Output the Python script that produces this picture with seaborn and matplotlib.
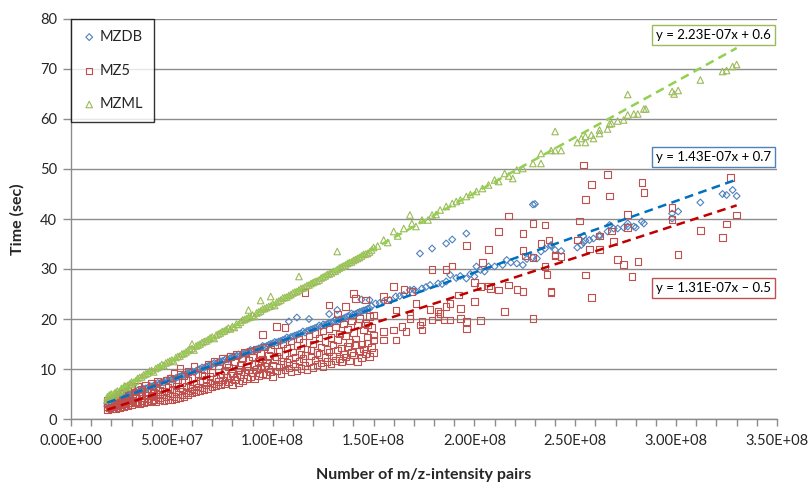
import numpy as np
import pandas as pd
import matplotlib
matplotlib.use('Agg')
import matplotlib.pyplot as plt
from matplotlib.ticker import FuncFormatter, MultipleLocator
import seaborn as sns

# x values in millions of m/z-intensity pairs, y in seconds
mzdb_x = [18, 18, 19, 20, 20, 21, 22, 23, 24, 25, 26, 27, 28, 30, 31, 32, 34, 35, 36, 38,
          40, 41, 42, 44, 45, 46, 48, 50, 52, 53, 54, 56, 58, 59, 60, 62, 64, 65, 66, 68,
          70, 71, 72, 74, 76, 77, 78, 80, 82, 83, 84, 86, 88, 89, 90, 92, 94, 95, 96, 98,
          100, 101, 102, 104, 106, 107, 108, 110, 112, 114, 115, 116, 118, 120, 122, 123, 124, 126, 128, 130,
          131, 132, 134, 136, 138, 139, 140, 142, 144, 146, 148, 149,
          108, 112, 118, 128, 132, 144, 148,
          151, 155, 158, 161, 165, 168, 171, 174, 178, 182, 186, 188, 193, 196, 200, 201, 205, 207,
          214, 216, 221, 224, 229, 231, 233, 235, 238, 173, 179, 186, 189, 196, 229, 230,
          238, 240, 243, 251, 253, 254, 254, 255, 257, 259, 262, 262, 266, 267, 269, 271, 274, 276, 276,
          279, 280, 283, 284, 298, 298, 301, 312, 323, 325, 328, 330,
          19, 21.5, 24, 26.5, 29, 33, 37, 39, 43, 47, 49, 51, 55, 57, 61, 63, 67, 69, 73, 75,
          79, 81, 85, 87, 91, 93, 97, 99, 103, 105, 109, 111, 113, 117, 119, 121, 125, 127, 129, 133,
          135, 137, 141, 143, 145, 147, 153, 163, 170, 176, 184, 191, 198, 203, 210, 218, 226]
mzdb_y = [2.6, 3.2, 3.0, 3.5, 3.1, 3.6, 3.9, 4.0, 4.2, 4.4, 4.5, 4.7, 4.9, 5.1, 5.3, 5.4, 5.6, 5.8, 6.0, 6.2,
          6.5, 6.7, 6.8, 7.1, 7.4, 7.3, 7.6, 7.9, 8.2, 8.4, 8.5, 8.8, 9.1, 9.3, 9.5, 9.6, 10.0, 10.3, 10.2, 10.6,
          10.9, 11.2, 11.1, 11.5, 11.7, 12.1, 11.9, 12.3, 12.6, 12.9, 12.7, 13.1, 13.4, 13.8, 13.6, 13.9, 14.2, 14.6, 14.4, 14.8,
          15.1, 15.4, 15.3, 15.6, 15.9, 16.3, 16.1, 16.5, 16.8, 17.1, 17.5, 17.3, 17.7, 18.0, 18.3, 18.7, 18.5, 18.8, 19.2, 19.4,
          19.9, 19.7, 20.0, 20.3, 20.6, 21.1, 20.9, 21.2, 21.5, 21.8, 22.1, 22.6,
          19.5, 20.3, 20.0, 21.0, 21.8, 23.9, 23.8,
          23.1, 23.5, 23.8, 24.5, 24.8, 25.8, 25.5, 26.1, 26.8, 27.1, 27.5, 28.8, 28.6, 28.1, 28.5, 30.5, 29.5, 30.5,
          30.8, 31.8, 31.1, 30.8, 32.3, 32.1, 33.5, 34.1, 34.8, 33.1, 34.1, 35.1, 35.9, 37.1, 42.9, 43.0,
          34.6, 33.8, 33.6, 34.3, 34.8, 35.3, 36.6, 35.7, 35.8, 36.1, 36.8, 36.5, 37.5, 38.8, 38.1, 38.1, 38.3, 38.5, 39.1,
          38.5, 38.3, 39.5, 39.1, 41.1, 40.1, 41.5, 43.3, 45.0, 44.8, 45.8, 44.6,
          2.8, 3.4, 3.8, 4.8, 5.0, 5.7, 6.1, 6.6, 7.2, 7.7, 8.1, 8.0, 8.7, 9.0, 9.4, 9.9, 10.5, 10.8, 11.4, 11.6,
          12.2, 12.5, 13.0, 13.3, 13.7, 14.1, 14.6, 15.0, 15.5, 15.8, 16.4, 16.7, 17.0, 17.6, 17.9, 18.2, 18.9, 19.0, 19.3, 19.9,
          20.1, 20.5, 21.0, 21.4, 21.7, 22.0, 23.2, 24.6, 25.9, 26.4, 27.0, 28.2, 29.0, 29.8, 30.5, 31.3, 32.0]

mz5_x = [18, 18, 18, 18, 19, 19, 20, 20, 20, 20, 21, 21, 22, 22, 22, 22, 23, 23, 24, 24, 24, 25, 25,
         26, 26, 26, 27, 27, 28, 28, 28, 29, 29, 30, 30, 30, 32, 32, 32, 33, 33, 34, 34, 35, 35, 35,
         36, 36, 37, 37, 38, 38, 38, 40, 40, 40, 40, 41, 41, 42, 42, 42, 43, 43, 44, 44, 44, 45, 45,
         46, 46, 47, 47, 48, 48, 48, 49, 49, 50, 50, 50, 51, 51, 52, 52, 52, 53, 53, 54, 54, 54,
         55, 55, 55, 56, 56, 57, 57, 58, 58, 58, 59, 59, 60, 60, 60, 61, 61, 62, 62, 63, 63, 64, 64,
         65, 65, 66, 66, 67, 67, 68, 68, 69, 69, 70, 70, 71, 71, 72, 72, 73, 73, 74, 74, 75, 75,
         76, 76, 77, 77, 78, 78, 79, 79, 80, 80, 81, 81, 82, 82, 83, 83, 84, 84, 85, 85, 86, 86,
         87, 87, 88, 88, 89, 89, 90, 90, 91, 91, 92, 92, 93, 93, 94, 94, 95, 95, 96, 96, 97, 97,
         98, 98, 99, 99, 100, 100, 101, 101, 102, 102, 103, 103, 104, 104, 105, 105, 106, 106, 107, 107,
         108, 108, 109, 109, 110, 110, 111, 111, 112, 112, 113, 113, 114, 114, 115, 115, 116, 116, 117, 117,
         118, 118, 119, 119, 120, 120, 121, 121, 122, 122, 123, 123, 124, 124, 125, 125, 126, 126, 127, 127,
         128, 128, 129, 129, 130, 130, 131, 131, 132, 132, 133, 133, 134, 134, 135, 135, 136, 136, 137, 137,
         138, 138, 139, 139, 140, 140, 141, 141, 142, 142, 143, 143, 144, 144, 145, 145, 146, 146, 147, 147,
         148, 148, 149, 149, 150, 150,
         95, 102, 106, 116, 128, 132, 136, 140, 141, 146, 147, 150,
         150, 155, 155, 155, 157, 160, 160, 161, 161, 164, 165, 166, 168, 169, 168, 171, 173, 174, 174, 178,
         179, 179, 182, 182, 183, 185, 186, 186, 188, 188, 189, 192, 193, 193, 196, 196, 196, 200, 200, 203,
         203, 204, 207, 207, 208, 212, 212, 215, 217, 217, 221, 224, 224, 224, 225, 229, 229, 229, 233, 235,
         235, 236, 237, 238, 238, 240, 240, 243, 251, 252, 254, 255, 255, 257, 258, 258, 262, 262, 266, 267,
         268, 269, 271, 274, 276, 276, 278, 281, 283, 284, 298, 298, 301, 312, 323, 325, 327, 330]
mz5_y = [1.9, 2.5, 3.1, 3.8, 2.2, 2.9, 2.0, 2.7, 3.4, 4.2, 2.4, 3.0, 2.1, 2.8, 3.6, 4.5, 2.6, 3.3, 2.3, 3.0, 3.9, 2.9, 4.6,
         2.5, 3.4, 5.2, 3.1, 4.0, 2.7, 3.6, 5.6, 3.3, 4.4, 2.9, 3.8, 6.2, 3.2, 4.3, 5.4, 3.5, 6.5, 3.0, 4.7, 3.6, 5.1, 6.0,
         3.3, 4.2, 4.8, 6.8, 3.4, 4.0, 5.5, 3.7, 4.6, 6.1, 7.2, 3.9, 5.3, 3.5, 4.5, 6.4, 5.0, 7.5, 3.8, 4.2, 5.8, 4.8, 6.9,
         3.6, 5.5, 4.4, 7.8, 3.9, 5.2, 6.3, 4.7, 8.2, 3.8, 5.9, 7.0, 4.5, 9.2, 4.1, 5.5, 6.6, 5.0, 7.9, 4.3, 6.2, 10.2,
         4.8, 5.6, 7.3, 4.5, 8.6, 5.3, 6.5, 4.9, 7.7, 9.5, 5.6, 6.8, 5.2, 6.1, 8.3, 5.8, 10.5, 5.4, 7.2, 6.4, 9.0, 5.7, 7.6,
         6.2, 8.7, 5.9, 9.8, 6.8, 7.9, 6.1, 10.9, 7.3, 8.5, 6.4, 9.3, 7.0, 11.6, 6.6, 8.1, 7.5, 10.1, 6.9, 8.8, 7.8, 12.1,
         7.1, 9.6, 8.3, 11.0, 7.4, 10.4, 8.7, 12.5, 6.8, 9.1, 7.9, 11.4, 8.4, 12.9, 7.2, 9.9, 8.9, 10.8, 7.6, 12.2, 9.4, 13.3,
         8.1, 10.5, 9.8, 11.8, 8.5, 13.6, 9.2, 12.4, 8.0, 10.9, 9.9, 14.0, 8.7, 11.5, 10.3, 13.1, 9.1, 12.0, 10.6, 14.4, 8.9, 11.2,
         10.0, 12.7, 9.5, 13.9, 8.5, 10.8, 11.9, 14.8, 9.6, 12.5, 10.4, 13.5, 9.1, 11.6, 10.9, 15.1, 9.8, 12.9, 11.3, 14.2,
         10.2, 12.0, 9.4, 15.6, 11.0, 13.4, 10.5, 12.4, 9.7, 14.7, 11.6, 16.0, 10.1, 13.0, 12.1, 15.3, 10.7, 12.7, 9.9, 14.0,
         11.4, 16.6, 12.6, 13.7, 10.3, 15.0, 11.8, 17.1, 10.9, 13.3, 12.9, 16.2, 11.2, 14.4, 10.5, 17.6, 12.3, 15.5, 11.5, 13.9,
         13.4, 18.0, 11.0, 16.3, 12.6, 14.8, 11.7, 18.4, 13.8, 15.9, 12.1, 17.0, 11.4, 14.2, 13.0, 19.0, 12.4, 16.6, 14.5, 18.0,
         11.6, 15.3, 13.3, 19.6, 12.8, 17.3, 14.9, 16.0, 11.5, 18.8, 13.6, 20.1, 12.2, 15.0, 14.0, 17.8, 13.1, 19.2, 15.2, 16.4,
         12.5, 20.5, 14.3, 18.3, 13.3, 16.8,
         16.9, 18.5, 18.3, 25.3, 22.8, 21.0, 22.5, 25.1, 24.1, 23.8, 18.8, 20.8,
         15.8, 15.8, 17.5, 24.5, 23.8, 17.8, 26.5, 15.8, 21.8, 18.5, 25.9, 17.5, 20.1, 25.5, 20.7, 23.1, 18.8, 17.8, 19.5, 21.9,
         19.8, 29.9, 20.5, 21.5, 21.1, 19.8, 22.5, 29.9, 23.1, 19.8, 30.6, 24.8, 20.1, 22.1, 34.7, 18.0, 19.5, 27.3, 23.5, 26.5,
         19.7, 31.3, 33.9, 26.6, 26.1, 37.5, 25.8, 21.5, 40.6, 26.8, 25.9, 37.1, 33.7, 25.5, 32.6, 39.1, 32.3, 20.1, 35.1, 38.8,
         30.5, 28.9, 35.8, 25.5, 25.3, 32.6, 32.8, 32.5, 35.8, 39.6, 50.8, 43.9, 28.8, 34.0, 46.9, 24.3, 36.6, 33.9, 48.9, 44.6,
         37.6, 35.5, 31.9, 30.9, 40.9, 38.3, 28.5, 31.5, 47.3, 45.3, 42.3, 39.9, 32.9, 37.7, 36.3, 39.0, 48.3, 40.8]

mzml_x = [18, 18, 19, 19, 20, 20, 21, 22, 22, 23, 24, 25, 25, 26, 27, 28, 28, 30, 30, 32, 33, 35, 36, 37, 38,
          40, 41, 42, 44, 45, 46, 48, 50, 51, 52, 54, 55, 56, 58, 60, 61, 62, 64, 65, 66, 68, 70, 71, 72, 74,
          75, 76, 78, 80, 81, 82, 84, 85, 86, 88, 90, 91, 92, 94, 95, 96, 98, 100, 101, 102, 104, 105, 106, 108,
          110, 112, 114, 116, 118, 120, 122, 124, 126, 128, 130, 132, 134, 136, 138, 140, 142, 144, 146, 148, 150,
          60, 88, 94, 99, 113, 132,
          155, 160, 165, 168, 169, 174, 179, 183, 186, 189, 193, 196, 201, 204, 207, 212, 215, 219, 221, 224,
          229, 233, 233, 238, 240, 240, 243, 251, 253, 255, 255, 258, 259, 262, 262, 266, 267, 268, 271, 274,
          276, 276, 279, 281, 284, 285, 298, 299, 301, 312, 323, 325, 328, 330,
          18.5, 21.5, 23.5, 26.5, 29, 31, 34, 39, 43, 47, 49, 53, 57, 59, 63, 67, 69, 73, 77, 79,
          83, 87, 89, 93, 97, 99, 103, 107, 109, 111, 113, 115, 117, 119, 121, 123, 125, 127, 129, 131,
          133, 135, 137, 139, 141, 143, 145, 147, 149, 152, 157, 162, 171, 177, 181, 191, 198, 210, 217]
mzml_y = [3.8, 4.4, 4.1, 4.8, 4.3, 5.0, 4.6, 5.3, 4.8, 5.6, 5.5, 6.1, 5.7, 6.2, 6.5, 6.7, 6.3, 7.4, 6.9, 7.6, 8.1, 8.4, 8.8, 9.0, 9.2,
          9.7, 9.4, 10.1, 10.5, 10.9, 10.7, 11.4, 11.8, 11.5, 12.3, 12.6, 13.0, 13.1, 13.7, 14.1, 13.8, 14.6, 15.0, 15.3, 15.5, 15.9, 16.4, 16.1, 16.8, 17.2,
          17.5, 17.6, 18.2, 18.5, 18.3, 19.0, 19.4, 19.8, 19.9, 20.3, 20.8, 20.5, 21.2, 21.6, 22.0, 22.1, 22.5, 23.0, 22.7, 23.4, 23.8, 24.2, 24.3, 24.7,
          25.2, 25.5, 26.1, 26.4, 26.8, 27.3, 27.6, 28.2, 28.6, 29.0, 29.5, 29.9, 30.4, 30.8, 31.3, 31.7, 32.1, 32.6, 33.0, 33.4, 34.3,
          15.0, 21.8, 23.7, 24.5, 28.5, 33.5,
          35.8, 37.5, 38.1, 40.8, 39.1, 39.8, 40.8, 41.8, 42.5, 43.1, 43.8, 44.5, 45.5, 46.1, 46.8, 47.5, 49.1, 48.1, 49.8, 50.1,
          51.1, 51.1, 53.1, 53.7, 53.7, 57.5, 53.7, 55.3, 56.1, 55.3, 56.5, 56.8, 56.1, 57.8, 57.1, 58.0, 59.0, 59.1, 59.6, 59.8,
          60.8, 64.9, 61.0, 61.0, 62.0, 62.0, 65.5, 65.0, 65.7, 67.8, 69.5, 69.7, 70.5, 70.9,
          4.2, 5.1, 5.2, 6.6, 7.0, 7.3, 8.3, 9.6, 10.3, 11.2, 11.6, 12.5, 13.4, 13.9, 14.8, 15.6, 16.2, 17.0, 17.9, 18.0,
          18.9, 20.1, 20.4, 21.4, 22.3, 22.6, 23.6, 24.4, 24.9, 25.4, 25.8, 26.2, 26.7, 27.1, 27.5, 27.8, 28.4, 28.9, 29.2, 29.6,
          30.2, 30.6, 31.1, 31.4, 31.9, 32.3, 32.9, 33.1, 33.8, 34.6, 35.3, 36.6, 38.5, 39.8, 40.9, 43.5, 44.9, 47.8, 48.6]

series = ['MZDB', 'MZ5', 'MZML']
slopes = [1.43e-07, 1.31e-07, 2.23e-07]
intercepts = [0.7, -0.5, 0.6]
equations = ['y = 1.43E-07x + 0.7', 'y = 1.31E-07x \u2013 0.5', 'y = 2.23E-07x + 0.6']

frames = []
for name, xs, ys in [('MZDB', mzdb_x, mzdb_y), ('MZ5', mz5_x, mz5_y), ('MZML', mzml_x, mzml_y)]:
    frames.append(pd.DataFrame({'pairs': np.array(xs) * 1e6, 'time': ys, 'format': name}))
df = pd.concat(frames, ignore_index=True)

marker_colors = {'MZDB': '#4F81BD', 'MZ5': '#C0504D', 'MZML': '#9BBB59'}
trend_colors = {'MZDB': '#0070C0', 'MZ5': '#C00000', 'MZML': '#92D050'}
markers = {'MZDB': 'D', 'MZ5': 's', 'MZML': '^'}
sizes = {'MZDB': 12, 'MZ5': 22, 'MZML': 22}

sns.set_style('white')
plt.rcParams['font.family'] = ['Lato', 'DejaVu Sans']

fig = plt.figure(figsize=(8.09, 4.86), dpi=100)
ax = fig.add_axes([71 / 809, 1 - 419 / 486, 706 / 809, 400 / 486])

for name in series:
    sub = df[df['format'] == name]
    sns.scatterplot(data=sub, x='pairs', y='time', marker=markers[name], s=sizes[name],
                    facecolor='none', edgecolor=marker_colors[name], linewidth=0.8,
                    label=name, ax=ax, zorder=3)

# Linear trend lines from the fitted coefficients
boxes = [(0.91, 0.655), (0.91, 0.327), (0.91, 0.96)]
for name, m, b, eq, pos in zip(series, slopes, intercepts, equations, boxes):
    sub = df[df['format'] == name]
    xs = np.array([sub['pairs'].min(), sub['pairs'].max()])
    ax.plot(xs, m * xs + b, linestyle=(0, (3.5, 2.2)), color=trend_colors[name], linewidth=1.8, zorder=4)
    ax.text(pos[0], pos[1], eq, transform=ax.transAxes, ha='center', va='center', fontsize=9.5,
            color='black', zorder=5,
            bbox=dict(boxstyle='square,pad=0.3', facecolor='white', edgecolor=marker_colors[name], linewidth=1.0))

ax.set_xlim(0, 3.5e8)
ax.set_ylim(0, 80)
ax.xaxis.set_major_locator(MultipleLocator(5e7))
ax.xaxis.set_minor_locator(MultipleLocator(1e7))
ax.yaxis.set_major_locator(MultipleLocator(10))
ax.xaxis.set_major_formatter(FuncFormatter(lambda v, p: f'{v:.2E}'))
ax.grid(axis='y', color='#8C8C8C', linewidth=1.0)
ax.set_axisbelow(True)
for side in ['top', 'right']:
    ax.spines[side].set_visible(False)
for side in ['left', 'bottom']:
    ax.spines[side].set_color('#8C8C8C')
    ax.spines[side].set_linewidth(1.0)
ax.tick_params(axis='x', which='both', direction='out', length=5, width=1, color='#8C8C8C',
               labelsize=10.5, bottom=True, pad=6)
ax.tick_params(axis='y', which='major', direction='out', length=6, width=1, color='#8C8C8C',
               labelsize=10.5, left=True, pad=4)

ax.set_xlabel('Number of m/z-intensity pairs', fontsize=11.5, fontweight='bold', labelpad=14)
ax.set_ylabel('Time (sec)', fontsize=11.5, fontweight='bold', labelpad=11)

leg = ax.legend(loc='upper left', bbox_to_anchor=(0, 1), borderaxespad=0, frameon=True, fancybox=False,
                edgecolor='black', fontsize=10.5, labelspacing=1.35, handletextpad=0.2, handlelength=1.0,
                borderpad=0.75, markerscale=1.0)
leg.get_frame().set_linewidth(1.0)

fig.savefig('out.png', dpi=100)
